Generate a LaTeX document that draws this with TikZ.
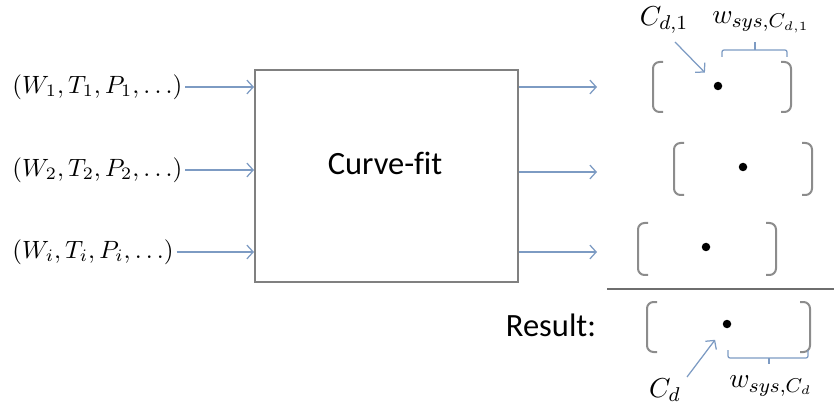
\documentclass[tikz,border=0pt]{standalone}
\usepackage[no-math]{fontspec}
\setmainfont[Ligatures=NoCommon]{Carlito}
\usetikzlibrary{arrows.meta}
\definecolor{arrowblue}{RGB}{125,155,195}
\definecolor{brgray}{RGB}{140,140,140}
\definecolor{boxgray}{RGB}{128,128,128}
\definecolor{rulegray}{RGB}{110,110,110}
\tikzset{
  flow/.style={draw=arrowblue, line width=0.5pt, -{Straight Barb[length=2.5pt,width=5.5pt]}},
  brk/.style={draw=brgray, line width=0.8pt, rounded corners=2.6pt},
  bracepath/.style={draw=arrowblue, line width=0.5pt, rounded corners=0.8pt},
  dotnode/.style={circle, fill=black, inner sep=0pt, minimum size=3.4pt},
  mlabel/.style={inner sep=0pt, font=\fontsize{9.7}{12}\selectfont},
  wlabel/.style={inner sep=0pt, font=\fontsize{11}{13}\selectfont},
  tlabel/.style={inner sep=0pt, font=\fontsize{13}{15}\selectfont},
}
\newcommand\brpair[4]{%
  \draw[brk] (#1+10,#3) -- (#1,#3) -- (#1,#4) -- (#1+10,#4);
  \draw[brk] (#2-10,#3) -- (#2,#3) -- (#2,#4) -- (#2-10,#4);}
\begin{document}
\begin{tikzpicture}[x=0.4pt,y=-0.4pt]
\useasboundingbox (0,0) rectangle (834,406);

% inputs
\node[mlabel, anchor=west] (in1) at (12,87) {$(W_1,T_1,P_1,\ldots)$};
\node[mlabel, anchor=west] (in2) at (12,170) {$(W_2,T_2,P_2,\ldots)$};
\node[mlabel, anchor=west] (in3) at (12,252) {$(W_i,T_i,P_i,\ldots)$};

% box
\node[draw=boxgray, line width=0.8pt, minimum width=105.2pt, minimum height=84.8pt, inner sep=0pt] (box) at (386.5,176) {};
\node[tlabel] (cf) at (385,163) {Curve-fit};

\draw[flow, shorten <=1pt] (in1.east) -- (in1.east -| box.west);
\draw[flow, shorten <=1pt] (in2.east) -- (in2.east -| box.west);
\draw[flow, shorten <=1pt] (in3.east) -- (in3.east -| box.west);

% outputs
\coordinate (o1) at (597,87);
\coordinate (o2) at (597,172);
\coordinate (o3) at (597,252);
\draw[flow] (box.east |- o1) -- (o1);
\draw[flow] (box.east |- o2) -- (o2);
\draw[flow] (box.east |- o3) -- (o3);

% brackets
\brpair{653}{791}{62}{112}
\brpair{674}{812}{143}{195}
\brpair{638}{776}{223}{275}
\brpair{647}{810}{302}{352}

% dots
\node[dotnode] (d1) at (718,86) {};
\node[dotnode] (d2) at (743,167) {};
\node[dotnode] (d3) at (706,247) {};
\node[dotnode] (d4) at (727,324) {};

% separator
\draw[rulegray, line width=0.8pt] (607,289) -- (834,289);

\node[tlabel] (res) at (551,325) {Result:};

% top annotations
\node[wlabel] (cd1) at (664,20) {$C_{d,1}$};
\coordinate (a1) at (675,42);
\draw[flow, shorten >=5.6pt] (a1) -- (d1);
\node[wlabel] (ws1) at (761,22) {$w_{sys,C_{d,1}}$};
\draw[bracepath] (722,57) -- (722,50) -- (787,50) -- (787,57);
\draw[bracepath] (755,50) -- (755,42);

% result annotations
\node[wlabel] (cd) at (665,390) {$C_d$};
\coordinate (a2) at (687,377);
\draw[flow, shorten >=6pt] (a2) -- (d4);
\node[wlabel] (wsd) at (771,386) {$w_{sys,C_d}$};
\draw[bracepath] (728,350) -- (728,358) -- (808,358) -- (808,350);
\draw[bracepath] (769,358) -- (769,364);
\end{tikzpicture}
\end{document}
